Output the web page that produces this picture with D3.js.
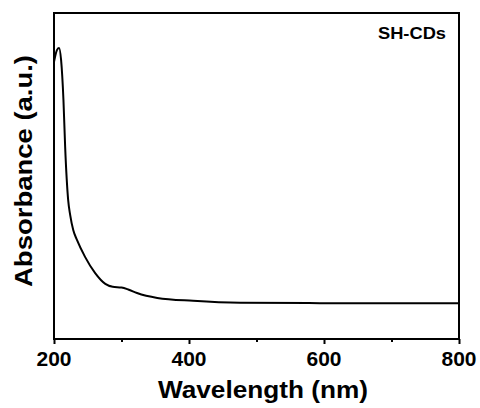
<!DOCTYPE html>
<html>
<head>
<meta charset="utf-8">
<script src="https://cdn.jsdelivr.net/npm/d3@7"></script>
<style>
  html, body { margin: 0; padding: 0; background: #fff; }
  svg text { font-family: "Liberation Sans", Arial, sans-serif; font-weight: bold; fill: #000; }
</style>
</head>
<body>
<svg id="chart"></svg>
<script>
// values
const wavelengths = [200, 201.5, 204.5, 207.5, 210.5, 214, 216.5, 221, 224, 228.5, 234, 246, 261, 276, 287, 300, 310, 323, 353, 406, 476, 594, 800];
const absorbance = [0.850, 0.865, 0.887, 0.893, 0.856, 0.733, 0.590, 0.426, 0.380, 0.334, 0.304, 0.252, 0.202, 0.169, 0.160, 0.158, 0.152, 0.141, 0.126, 0.117, 0.111, 0.110, 0.1095];
const majorTicks = [200, 400, 600, 800];
const minorTicks = [300, 500, 700];
const sampleLabel = "SH-CDs";

const width = 480;
const height = 408;
const plotLeft = 54, plotRight = 459, plotTop = 13, plotBottom = 339;

let svg = d3.select("#chart")
    .attr("width", width)
    .attr("height", height);

let scX = d3.scaleLinear().domain([200, 800]).range([plotLeft, plotRight]);
let scY = d3.scaleLinear().domain([0, 1]).range([plotBottom, plotTop]);

// bottom axis, ticks pointing outward
svg.append("g")
    .attr("transform", `translate(0, ${plotBottom})`)
    .call(d3.axisBottom(scX).tickValues(majorTicks).tickSize(5).tickFormat(""))
    .call(g => g.select(".domain").remove())
    .selectAll("line").attr("stroke", "#000").attr("stroke-width", 2);

svg.append("g")
    .attr("transform", `translate(0, ${plotBottom})`)
    .call(d3.axisBottom(scX).tickValues(minorTicks).tickSize(3).tickFormat(""))
    .call(g => g.select(".domain").remove())
    .selectAll("line").attr("stroke", "#000").attr("stroke-width", 2);

// tick labels
svg.selectAll(".xlab")
    .data(majorTicks)
    .enter()
    .append("text")
    .attr("x", d => scX(d))
    .attr("y", 366)
    .attr("text-anchor", "middle")
    .attr("font-size", 20)
    .attr("textLength", 35)
    .attr("lengthAdjust", "spacingAndGlyphs")
    .text(d => d);

// frame
svg.append("rect")
    .attr("x", plotLeft)
    .attr("y", plotTop)
    .attr("width", plotRight - plotLeft)
    .attr("height", plotBottom - plotTop)
    .attr("fill", "none")
    .attr("stroke", "#000")
    .attr("stroke-width", 2);

// spectrum
let points = wavelengths.map((w, i) => [w, absorbance[i]]);
let line = d3.line()
    .x(d => scX(d[0]))
    .y(d => scY(d[1]))
    .curve(d3.curveMonotoneX);

svg.append("path")
    .datum(points)
    .attr("d", line)
    .attr("fill", "none")
    .attr("stroke", "#000")
    .attr("stroke-width", 2);

// axis titles
svg.append("text")
    .attr("x", (158 + 368) / 2)
    .attr("y", 398)
    .attr("text-anchor", "middle")
    .attr("font-size", 23)
    .attr("textLength", 210)
    .attr("lengthAdjust", "spacingAndGlyphs")
    .text("Wavelength (nm)");

svg.append("text")
    .attr("transform", "translate(32, 171) rotate(-90)")
    .attr("text-anchor", "middle")
    .attr("font-size", 24)
    .attr("textLength", 232)
    .attr("lengthAdjust", "spacingAndGlyphs")
    .text("Absorbance (a.u.)");

// sample label
svg.append("text")
    .attr("x", 446)
    .attr("y", 39)
    .attr("text-anchor", "end")
    .attr("font-size", 17)
    .attr("textLength", 68)
    .attr("lengthAdjust", "spacingAndGlyphs")
    .text(sampleLabel);
</script>
</body>
</html>
